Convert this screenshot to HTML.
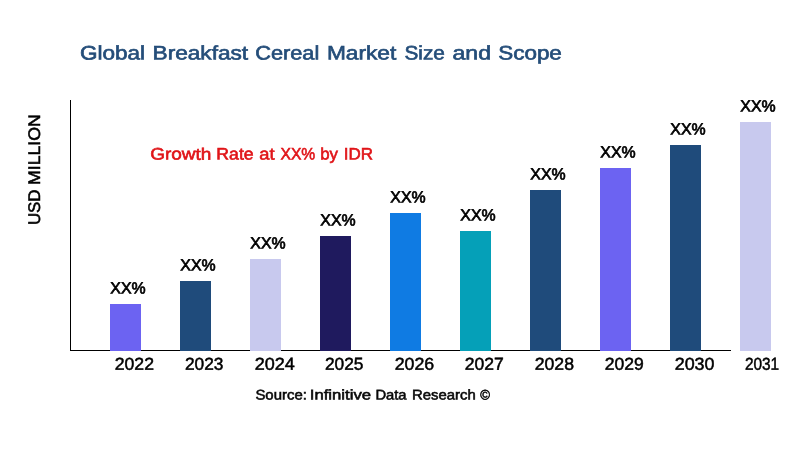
<!DOCTYPE html>
<html lang="en"><head><meta charset="utf-8"><title>Global Breakfast Cereal Market Size and Scope</title>
<style>
html,body{margin:0;padding:0;background:#fff;}
body{width:800px;height:450px;overflow:hidden;font-family:"Liberation Sans",sans-serif;}
svg{display:block;}
text{font-family:"Liberation Sans",sans-serif;}
.title{font-size:19.5px;fill:#244d79;stroke:#244d79;stroke-width:0.65px;}
.growth{font-size:16.6px;fill:#e01418;stroke:#e01418;stroke-width:0.6px;}
.lbl{font-size:16.2px;fill:#000;stroke:#000;stroke-width:0.7px;}
.yr{font-size:17.3px;fill:#000;stroke:#000;stroke-width:0.5px;}
.src{font-size:14.0px;fill:#080808;stroke:#080808;stroke-width:0.55px;}
.ylab{font-size:16.8px;fill:#000;stroke:#000;stroke-width:0.55px;}
</style></head><body>
<svg width="800" height="450" viewBox="0 0 800 450">
<rect x="0" y="0" width="800" height="450" fill="#ffffff"/>
<text class="title" transform="rotate(0.04 79.95 59.45)"><tspan x="79.95" y="59.45" textLength="65.05" lengthAdjust="spacingAndGlyphs">Global</tspan> <tspan x="152.6" y="59.40" textLength="95.55" lengthAdjust="spacingAndGlyphs">Breakfast</tspan> <tspan x="255.25" y="59.33" textLength="64.0" lengthAdjust="spacingAndGlyphs">Cereal</tspan> <tspan x="326.9" y="59.28" textLength="69.45" lengthAdjust="spacingAndGlyphs">Market</tspan> <tspan x="404.5" y="59.22" textLength="40.35" lengthAdjust="spacingAndGlyphs">Size</tspan> <tspan x="452.5" y="59.19" textLength="38.6" lengthAdjust="spacingAndGlyphs">and</tspan> <tspan x="498.25" y="59.16" textLength="63.6" lengthAdjust="spacingAndGlyphs">Scope</tspan></text>
<text class="growth" transform="rotate(0.04 150.15 159.6)"><tspan x="150.15" y="159.60" textLength="61.2" lengthAdjust="spacingAndGlyphs">Growth</tspan> <tspan x="216.35" y="159.55" textLength="37.3" lengthAdjust="spacingAndGlyphs">Rate</tspan> <tspan x="259.35" y="159.52" textLength="15.25" lengthAdjust="spacingAndGlyphs">at</tspan> <tspan x="280.5" y="159.51" textLength="34.75" lengthAdjust="spacingAndGlyphs">XX%</tspan> <tspan x="320.25" y="159.48" textLength="17.75" lengthAdjust="spacingAndGlyphs">by</tspan> <tspan x="343.75" y="159.46" textLength="29.25" lengthAdjust="spacingAndGlyphs">IDR</tspan></text>
<g transform="translate(39.9,223.9) rotate(-90)">
<text class="ylab" transform="rotate(0.04 -1.15 0)"><tspan x="-1.15" y="0.00" textLength="35.55" lengthAdjust="spacingAndGlyphs">USD</tspan> <tspan x="39.0" y="-0.03" textLength="70.6" lengthAdjust="spacingAndGlyphs">MILLION</tspan></text>
</g>
<rect x="70" y="100" width="1" height="251" fill="#000"/>
<rect x="70" y="350" width="661" height="1" fill="#000"/>
<g>
<rect x="110" y="304" width="31" height="47" fill="#6c63f2"/>
<rect x="180" y="281" width="31" height="70" fill="#1f4b7b"/>
<rect x="250" y="259" width="31" height="92" fill="#c8c9ee"/>
<rect x="320" y="236" width="31" height="115" fill="#1f1a5e"/>
<rect x="390" y="213" width="31" height="138" fill="#0f7be3"/>
<rect x="460" y="231" width="31" height="120" fill="#05a0b8"/>
<rect x="530" y="190" width="31" height="161" fill="#1f4b7b"/>
<rect x="600" y="168" width="31" height="183" fill="#6c63f2"/>
<rect x="670" y="145" width="31" height="206" fill="#1f4b7b"/>
<rect x="740" y="122" width="31" height="229" fill="#c8c9ee"/>
</g>
<text class="lbl" transform="rotate(0.04 110.35 293.5)"><tspan x="110.35" y="293.50" textLength="35.35" lengthAdjust="spacingAndGlyphs">XX%</tspan></text>
<text class="lbl" transform="rotate(0.04 180.35 270.5)"><tspan x="180.35" y="270.50" textLength="35.35" lengthAdjust="spacingAndGlyphs">XX%</tspan></text>
<text class="lbl" transform="rotate(0.04 250.35 248.5)"><tspan x="250.35" y="248.50" textLength="35.35" lengthAdjust="spacingAndGlyphs">XX%</tspan></text>
<text class="lbl" transform="rotate(0.04 320.35 225.5)"><tspan x="320.35" y="225.50" textLength="35.35" lengthAdjust="spacingAndGlyphs">XX%</tspan></text>
<text class="lbl" transform="rotate(0.04 390.35 202.5)"><tspan x="390.35" y="202.50" textLength="35.35" lengthAdjust="spacingAndGlyphs">XX%</tspan></text>
<text class="lbl" transform="rotate(0.04 460.35 220.5)"><tspan x="460.35" y="220.50" textLength="35.35" lengthAdjust="spacingAndGlyphs">XX%</tspan></text>
<text class="lbl" transform="rotate(0.04 530.35 179.5)"><tspan x="530.35" y="179.50" textLength="35.35" lengthAdjust="spacingAndGlyphs">XX%</tspan></text>
<text class="lbl" transform="rotate(0.04 600.35 157.5)"><tspan x="600.35" y="157.50" textLength="35.35" lengthAdjust="spacingAndGlyphs">XX%</tspan></text>
<text class="lbl" transform="rotate(0.04 670.35 134.5)"><tspan x="670.35" y="134.50" textLength="35.35" lengthAdjust="spacingAndGlyphs">XX%</tspan></text>
<text class="lbl" transform="rotate(0.04 740.35 111.5)"><tspan x="740.35" y="111.50" textLength="35.35" lengthAdjust="spacingAndGlyphs">XX%</tspan></text>
<text class="yr" transform="rotate(0.04 114.75 369.65)"><tspan x="114.75" y="369.65" textLength="39.25" lengthAdjust="spacingAndGlyphs">2022</tspan></text>
<text class="yr" transform="rotate(0.04 185.0 369.65)"><tspan x="185.0" y="369.65" textLength="38.5" lengthAdjust="spacingAndGlyphs">2023</tspan></text>
<text class="yr" transform="rotate(0.04 254.75 369.65)"><tspan x="254.75" y="369.65" textLength="40.0" lengthAdjust="spacingAndGlyphs">2024</tspan></text>
<text class="yr" transform="rotate(0.04 325.0 369.65)"><tspan x="325.0" y="369.65" textLength="38.5" lengthAdjust="spacingAndGlyphs">2025</tspan></text>
<text class="yr" transform="rotate(0.04 394.75 369.65)"><tspan x="394.75" y="369.65" textLength="39.5" lengthAdjust="spacingAndGlyphs">2026</tspan></text>
<text class="yr" transform="rotate(0.04 464.75 369.65)"><tspan x="464.75" y="369.65" textLength="39.0" lengthAdjust="spacingAndGlyphs">2027</tspan></text>
<text class="yr" transform="rotate(0.04 534.75 369.65)"><tspan x="534.75" y="369.65" textLength="39.25" lengthAdjust="spacingAndGlyphs">2028</tspan></text>
<text class="yr" transform="rotate(0.04 604.75 369.65)"><tspan x="604.75" y="369.65" textLength="39.0" lengthAdjust="spacingAndGlyphs">2029</tspan></text>
<text class="yr" transform="rotate(0.04 674.75 369.65)"><tspan x="674.75" y="369.65" textLength="39.75" lengthAdjust="spacingAndGlyphs">2030</tspan></text>
<text class="yr" transform="rotate(0.04 744.9 369.65)"><tspan x="744.9" y="369.65" textLength="34.2" lengthAdjust="spacingAndGlyphs">2031</tspan></text>
<text class="src" transform="rotate(0.04 255.4 399.5)"><tspan x="255.4" y="399.50" textLength="51.45" lengthAdjust="spacingAndGlyphs">Source:</tspan> <tspan x="309.75" y="399.46" textLength="61.35" lengthAdjust="spacingAndGlyphs">Infinitive</tspan> <tspan x="375.4" y="399.42" textLength="31.2" lengthAdjust="spacingAndGlyphs">Data</tspan> <tspan x="412.0" y="399.39" textLength="63.75" lengthAdjust="spacingAndGlyphs">Research</tspan> <tspan x="480.3" y="399.34" textLength="9.7" lengthAdjust="spacingAndGlyphs">©</tspan></text>
</svg>
</body></html>
